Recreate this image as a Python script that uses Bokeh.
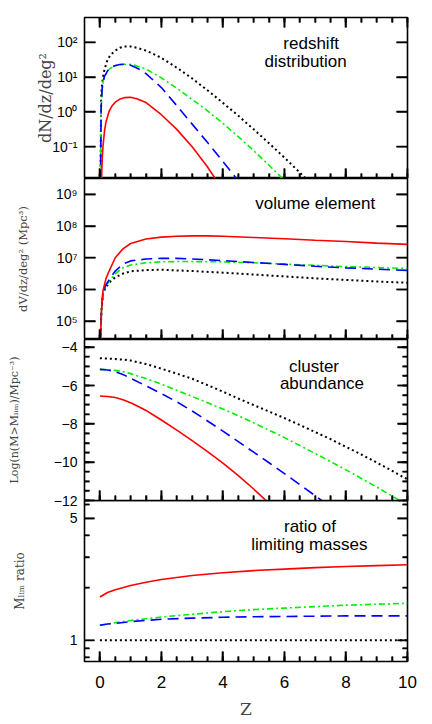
from bokeh.plotting import figure
from bokeh.layouts import column
from bokeh.models import (FixedTicker, LinearAxis, LogAxis, CustomJSTickFormatter,
                          BasicTickFormatter, Label, Range1d)
from bokeh.embed import file_html
from bokeh.resources import INLINE

# ---------------- data ----------------
z1_black = [0.02, 0.04, 0.07, 0.1, 0.15, 0.25, 0.35, 0.5, 0.65, 0.8, 1.0, 1.25, 1.5, 1.75,
            2.0, 2.5, 3.0, 3.5, 4.0, 4.5, 5.0, 5.5, 6.0, 6.5, 6.75]
lg1_black = [-2.0, 0.4, 0.8, 0.98, 1.22, 1.5, 1.64, 1.76, 1.84, 1.88, 1.88, 1.83, 1.76, 1.66,
             1.55, 1.27, 0.96, 0.62, 0.26, -0.11, -0.5, -0.9, -1.31, -1.74, -1.96]
z1_green = [0.02, 0.04, 0.07, 0.1, 0.15, 0.25, 0.35, 0.5, 0.7, 0.9, 1.1, 1.5, 2.0, 2.5, 3.0,
            3.5, 4.0, 4.5, 5.0, 5.5, 6.0]
lg1_green = [-2.0, 0.1, 0.62, 0.85, 1.02, 1.18, 1.26, 1.32, 1.36, 1.37, 1.35, 1.23, 0.98, 0.68,
             0.36, 0.03, -0.33, -0.71, -1.11, -1.53, -1.97]
z1_blue = [0.02, 0.04, 0.07, 0.1, 0.15, 0.25, 0.35, 0.5, 0.65, 0.8, 1.0, 1.25, 1.5, 2.0, 2.5,
           3.0, 3.5, 4.0, 4.5]
lg1_blue = [-2.0, 0.1, 0.62, 0.85, 1.02, 1.18, 1.27, 1.33, 1.36, 1.37, 1.34, 1.24, 1.1, 0.7,
            0.18, -0.35, -0.88, -1.42, -1.98]
z1_red = [0.05, 0.08, 0.1, 0.15, 0.2, 0.3, 0.4, 0.5, 0.65, 0.8, 1.0, 1.2, 1.5, 2.0, 2.5, 3.0,
          3.5, 3.8]
lg1_red = [-2.0, -1.3, -1.0, -0.55, -0.28, 0.02, 0.18, 0.28, 0.37, 0.41, 0.42, 0.38, 0.27,
           -0.08, -0.5, -1.0, -1.58, -1.98]

z2_red = [0.02, 0.05, 0.1, 0.2, 0.3, 0.5, 0.75, 1.0, 1.5, 2.0, 2.5, 3.0, 3.5, 4.0, 5.0, 6.0,
          7.0, 8.0, 9.0, 10.0]
lg2_red = [4.4, 5.3, 5.95, 6.35, 6.58, 7.0, 7.28, 7.45, 7.59, 7.65, 7.68, 7.69, 7.69, 7.68,
           7.64, 7.6, 7.55, 7.51, 7.46, 7.42]
z2 = [0.02, 0.05, 0.1, 0.2, 0.35, 0.5, 0.75, 1.0, 1.5, 2.0, 2.5, 3.0, 4.0, 5.0, 6.0, 7.0, 8.0,
      9.0, 10.0]
lg2_blue = [4.4, 5.3, 5.9, 6.15, 6.38, 6.58, 6.8, 6.9, 6.96, 6.98, 6.98, 6.96, 6.91, 6.85, 6.79,
            6.73, 6.68, 6.64, 6.6]
lg2_green = [4.4, 5.3, 5.9, 6.12, 6.32, 6.5, 6.68, 6.77, 6.84, 6.87, 6.88, 6.88, 6.87, 6.84,
             6.8, 6.76, 6.72, 6.69, 6.66]
lg2_black = [4.4, 5.3, 5.88, 6.08, 6.26, 6.38, 6.5, 6.57, 6.61, 6.62, 6.6, 6.58, 6.53, 6.47,
             6.41, 6.35, 6.3, 6.25, 6.21]

z3 = [0, 0.25, 0.5, 0.75, 1, 1.5, 2, 2.5, 3, 3.5, 4, 4.5, 5, 5.5, 6, 6.5, 7, 7.5, 8, 8.5, 9,
      9.5, 10]
n3_black = [-4.58, -4.59, -4.62, -4.65, -4.7, -4.88, -5.12, -5.38, -5.65, -5.98, -6.32, -6.68,
            -7.02, -7.36, -7.7, -8.06, -8.43, -8.8, -9.2, -9.6, -10.02, -10.45, -10.9]
n3_green = [-5.16, -5.17, -5.21, -5.28, -5.38, -5.64, -5.93, -6.25, -6.57, -6.9, -7.23, -7.58,
            -7.95, -8.33, -8.72, -9.13, -9.55, -9.97, -10.4, -10.85, -11.3, -11.77, -12.25]
z3_blue = [0, 0.25, 0.5, 0.75, 1, 1.5, 2, 2.5, 3, 3.5, 4, 4.5, 5, 5.5, 6, 6.5, 7, 7.3]
n3_blue = [-5.16, -5.19, -5.28, -5.43, -5.62, -6.02, -6.42, -6.85, -7.33, -7.85, -8.38, -8.93,
           -9.48, -10.03, -10.6, -11.17, -11.75, -12.1]
z3_red = [0, 0.25, 0.5, 0.75, 1, 1.25, 1.5, 1.75, 2, 2.5, 3, 3.5, 4, 4.5, 5, 5.5]
n3_red = [-6.55, -6.57, -6.63, -6.74, -6.9, -7.1, -7.3, -7.55, -7.8, -8.33, -8.88, -9.45,
          -10.05, -10.7, -11.4, -12.15]

z4 = [0, 0.25, 0.5, 1, 1.5, 2, 3, 4, 5, 6, 7, 8, 9, 10]
r4_red = [1.77, 1.88, 1.95, 2.06, 2.15, 2.23, 2.35, 2.44, 2.51, 2.56, 2.61, 2.65, 2.68, 2.71]
r4_green = [1.22, 1.24, 1.26, 1.3, 1.33, 1.36, 1.41, 1.46, 1.5, 1.53, 1.56, 1.59, 1.61, 1.63]
r4_blue = [1.22, 1.24, 1.25, 1.28, 1.3, 1.32, 1.34, 1.355, 1.365, 1.37, 1.375, 1.38, 1.38, 1.38]
r4_black = [1.0, 1.0, 1.0, 1.0, 1.0, 1.0, 1.0, 1.0, 1.0, 1.0, 1.0, 1.0, 1.0, 1.0]

x_major = [0, 2, 4, 6, 8, 10]
x_minor = [i * 0.5 for i in range(0, 21)]
y1_ticks = [0.1, 1, 10, 100]
y1_labels = ["10⁻¹", "10⁰", "10¹", "10²"]
y2_ticks = [1e5, 1e6, 1e7, 1e8, 1e9]
y2_labels = ["10⁵", "10⁶", "10⁷", "10⁸", "10⁹"]
y3_ticks = [-12, -10, -8, -6, -4]
y3_minor = [-12 + 0.5 * i for i in range(0, 18)]
y4_ticks = [1, 5]
y4_minor = [0.8, 0.9, 2, 3, 4, 6]
y4_labels = ["1", "5"]

X0, X1 = -0.5, 10
FRAME_W, FRAME_H = 323, 161
RED, BLUE, GREEN, BLACK = "#ff0000", "#0000ff", "#00f000", "#000000"
SANS = "Liberation Sans"
SERIF = "DejaVu Serif"
TICK_W = 1.6

FMT_CODE = """
let best = -1, bd = 1e9;
for (let i = 0; i < tv.length; i++) {
  const d = Math.abs(tv[i] - tick) / Math.max(Math.abs(tv[i]), 1e-30);
  if (d < bd) { bd = d; best = i; }
}
return (best >= 0 && bd < 1e-6) ? lv[best] : "";
"""


def fmt(ticks, labels):
    if labels is None:
        return BasicTickFormatter()
    return CustomJSTickFormatter(args=dict(tv=list(ticks), lv=list(labels)), code=FMT_CODE)


def style_tick_axis(ax, major_in, minor_in, show_labels=False, label_size="14px"):
    ax.axis_line_color = None
    ax.major_tick_in = major_in
    ax.major_tick_out = 0
    ax.minor_tick_in = minor_in
    ax.minor_tick_out = 0
    ax.major_tick_line_color = "black"
    ax.minor_tick_line_color = "black"
    ax.major_tick_line_width = TICK_W
    ax.minor_tick_line_width = TICK_W
    if not show_labels:
        ax.major_label_text_font_size = "0px"
        ax.major_label_standoff = 0
    else:
        ax.major_label_text_font = SANS
        ax.major_label_text_font_size = label_size
        ax.major_label_text_color = "black"


def make_fig(y_type, y0, y1, top, bottom):
    p = figure(frame_width=FRAME_W, frame_height=FRAME_H, x_range=Range1d(X0, X1),
               y_range=Range1d(y0, y1), y_axis_type=y_type, output_backend="svg",
               toolbar_location=None, min_border_left=84, min_border_right=14,
               min_border_top=top, min_border_bottom=bottom)
    p.xgrid.grid_line_color = None
    p.ygrid.grid_line_color = None
    p.outline_line_color = "black"
    p.outline_line_width = 1.6
    p.background_fill_color = None
    p.border_fill_color = None
    return p


def y_at(log, y0, y1, frac):
    # value located a fraction `frac` of the frame height above y0
    if log:
        return y0 * (y1 / y0) ** frac
    return y0 + (y1 - y0) * frac


def tick_marks_x(p, log, y0, y1, top):
    # inward tick marks along the bottom (and optionally top) frame edge
    for xs, px in ((x_major, 10), (x_minor, 5)):
        f = px / FRAME_H
        for xv in xs:
            p.line([xv, xv], [y0, y_at(log, y0, y1, f)], line_color="black",
                   line_width=TICK_W)
            if top:
                p.line([xv, xv], [y1, y_at(log, y0, y1, 1 - f)], line_color="black",
                       line_width=TICK_W)


def tick_marks_y(p, ticks, minor, major_len, minor_len):
    # inward tick marks along the left and right frame edges
    for ys, px in ((ticks, major_len), (minor, minor_len)):
        if not ys or px <= 0:
            continue
        dx = (X1 - X0) * px / FRAME_W
        for yv in ys:
            p.line([X0, X0 + dx], [yv, yv], line_color="black", line_width=TICK_W)
            p.line([X1, X1 - dx], [yv, yv], line_color="black", line_width=TICK_W)


def x_axes(p, labels_on, top_axis, log, y0, y1):
    ax = p.xaxis[0]
    ax.ticker = FixedTicker(ticks=x_major, minor_ticks=x_minor)
    style_tick_axis(ax, 10, 5, labels_on, "17px")
    if labels_on:
        ax.formatter = BasicTickFormatter()
        ax.major_label_standoff = 14
    else:
        ax.formatter = fmt(x_major, ["" for _ in x_major])
    if top_axis:
        t = LinearAxis(ticker=FixedTicker(ticks=x_major, minor_ticks=x_minor),
                       formatter=fmt(x_major, ["" for _ in x_major]))
        style_tick_axis(t, 10, 5, False)
        p.add_layout(t, "above")
    tick_marks_x(p, log, y0, y1, top_axis)


def y_axes(p, log, ticks, minor, labels, major_len, minor_len, label, lab_size, standoff):
    ax = p.yaxis[0]
    ax.ticker = FixedTicker(ticks=ticks, minor_ticks=minor)
    ax.formatter = fmt(ticks, labels)
    style_tick_axis(ax, major_len, minor_len, True, "14px")
    ax.major_label_standoff = 7
    ax.axis_label = label
    ax.axis_label_text_font = SERIF
    ax.axis_label_text_font_style = "normal"
    ax.axis_label_text_font_size = lab_size
    ax.axis_label_standoff = standoff
    cls = LogAxis if log else LinearAxis
    r = cls(ticker=FixedTicker(ticks=ticks, minor_ticks=minor),
            formatter=fmt(ticks, ["" for _ in ticks]))
    style_tick_axis(r, major_len, minor_len, False)
    p.add_layout(r, "right")
    tick_marks_y(p, ticks, minor, major_len, minor_len)


def curves(p, data):
    for xs, ys, color, dash, w in data:
        p.line(xs, ys, line_color=color, line_width=w, line_dash=dash)


def note(p, x, y, text):
    p.add_layout(Label(x=x, y=y, text=text, text_align="center", text_baseline="middle",
                       text_font=SANS, text_font_size="17px", text_color="black"))


DASH = "11 6"
DASHDOT = "6 3 2 3"
DOT = "2 3"

# ---- panel 1
r1 = (10 ** -1.91, 10 ** 2.71)
p1 = make_fig("log", r1[0], r1[1], 17, 0)
curves(p1, [
    (z1_black, [10 ** v for v in lg1_black], BLACK, DOT, 2.0),
    (z1_green, [10 ** v for v in lg1_green], GREEN, DASHDOT, 1.6),
    (z1_blue, [10 ** v for v in lg1_blue], BLUE, DASH, 1.6),
    (z1_red, [10 ** v for v in lg1_red], RED, "solid", 1.6),
])
x_axes(p1, False, True, True, r1[0], r1[1])
y_axes(p1, True, y1_ticks, [], y1_labels, 11, 0, "dN/dz/deg²", "16px", -6)
note(p1, 6.87, 10 ** 1.95, "redshift")
note(p1, 6.69, 10 ** 1.45, "distribution")

# ---- panel 2
r2 = (10 ** 4.42, 10 ** 9.5)
p2 = make_fig("log", r2[0], r2[1], 0, 0)
curves(p2, [
    (z2, [10 ** v for v in lg2_black], BLACK, DOT, 2.0),
    (z2, [10 ** v for v in lg2_green], GREEN, DASHDOT, 1.6),
    (z2, [10 ** v for v in lg2_blue], BLUE, DASH, 1.6),
    (z2_red, [10 ** v for v in lg2_red], RED, "solid", 1.6),
])
x_axes(p2, False, False, True, r2[0], r2[1])
y_axes(p2, True, y2_ticks, [], y2_labels, 11, 0, "dV/dz/deg² (Mpc³)", "11.5px", 23)
note(p2, 7.0, 10 ** 8.72, "volume element")

# ---- panel 3
r3 = (-12, -3.6)
p3 = make_fig("linear", r3[0], r3[1], 0, 8)
curves(p3, [
    (z3, n3_black, BLACK, DOT, 2.0),
    (z3, n3_green, GREEN, DASHDOT, 1.6),
    (z3_blue, n3_blue, BLUE, DASH, 1.6),
    (z3_red, n3_red, RED, "solid", 1.6),
])
x_axes(p3, False, False, False, r3[0], r3[1])
y_axes(p3, False, y3_ticks, y3_minor, None, 10, 5, "Log(n(M>Mₗᵢₘ)/Mpc⁻³)", "11px", 30)
note(p3, 6.96, -4.99, "cluster")
note(p3, 7.22, -5.89, "abundance")

# ---- panel 4
r4 = (0.756, 6.33)
p4 = make_fig("log", r4[0], r4[1], 0, 50)
p4.margin = (-8, 0, 0, 0)
curves(p4, [
    (z4, r4_black, BLACK, DOT, 2.0),
    (z4, r4_green, GREEN, DASHDOT, 1.6),
    (z4, r4_blue, BLUE, DASH, 1.6),
    (z4, r4_red, RED, "solid", 1.6),
])
x_axes(p4, True, False, True, r4[0], r4[1])
p4.xaxis[0].axis_label = "Z"
p4.xaxis[0].axis_label_text_font = SERIF
p4.xaxis[0].axis_label_text_font_style = "normal"
p4.xaxis[0].axis_label_text_font_size = "17px"
p4.xaxis[0].axis_label_standoff = 8
y_axes(p4, True, y4_ticks, y4_minor, y4_labels, 10, 5, "Mₗᵢₘ ratio", "12px", 40)
note(p4, 6.83, 4.49, "ratio of")
note(p4, 6.81, 3.56, "limiting masses")

layout = column(p1, p2, p3, p4)
open("out.html", "w").write(file_html(layout, INLINE))
